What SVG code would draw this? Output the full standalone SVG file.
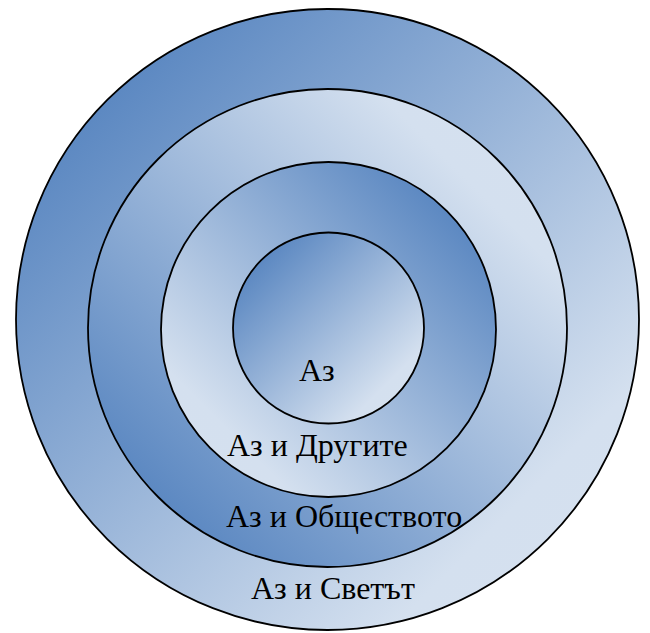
<svg xmlns="http://www.w3.org/2000/svg" width="650" height="633" viewBox="0 0 650 633">
  <defs>
    <linearGradient id="gTL" x1="0" y1="0" x2="1" y2="1">
      <stop offset="0" stop-color="#5a87c1"/>
      <stop offset="0.15" stop-color="#5d89c2"/>
      <stop offset="0.8" stop-color="#d4e0ef"/>
      <stop offset="1" stop-color="#d6e1ef"/>
    </linearGradient>
    <linearGradient id="gBL" x1="0" y1="1" x2="1" y2="0">
      <stop offset="0" stop-color="#5a87c1"/>
      <stop offset="0.15" stop-color="#5d89c2"/>
      <stop offset="0.8" stop-color="#d4e0ef"/>
      <stop offset="1" stop-color="#d6e1ef"/>
    </linearGradient>
    <linearGradient id="gTR" x1="1" y1="0" x2="0" y2="1">
      <stop offset="0" stop-color="#5a87c1"/>
      <stop offset="0.15" stop-color="#5d89c2"/>
      <stop offset="0.8" stop-color="#d4e0ef"/>
      <stop offset="1" stop-color="#d6e1ef"/>
    </linearGradient>
  </defs>
  <style>
    .ring { stroke: #000; stroke-width: 1.8; }
    .lbl { font-size: 32px; fill: #000; }
  </style>
  <g id="world">
    <ellipse class="ring" cx="327.5" cy="319.5" rx="311.5" ry="310.5" fill="url(#gTL)"/>
  </g>
  <g id="society">
    <ellipse class="ring" cx="327.5" cy="328" rx="239.5" ry="239" fill="url(#gBL)"/>
  </g>
  <g id="others">
    <circle class="ring" cx="328.5" cy="329.5" r="167.5" fill="url(#gTR)"/>
  </g>
  <g id="self">
    <circle class="ring" cx="328.5" cy="328" r="95.5" fill="url(#gTL)"/>
  </g>
  <g id="labels" font-family="'Liberation Serif', 'DejaVu Serif', serif">
    <text class="lbl" x="299" y="381">Аз</text>
    <text class="lbl" x="227" y="456">Аз и Другите</text>
    <text class="lbl" x="226" y="527">Аз и Обществото</text>
    <text class="lbl" x="251" y="599">Аз и Светът</text>
  </g>
</svg>
